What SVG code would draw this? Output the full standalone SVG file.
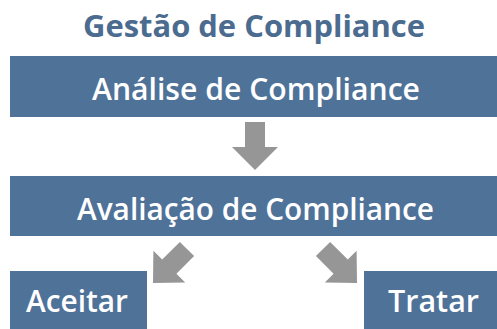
<svg xmlns="http://www.w3.org/2000/svg" width="497" height="329" viewBox="0 0 497 329">
<style>
.box{fill:#4f7299;}
.t{font-family:"Open Sans","DejaVu Sans",sans-serif;font-weight:600;fill:#ffffff;font-size:30px;}
.b{font-size:31px;}
.title{font-family:"Open Sans","DejaVu Sans",sans-serif;font-weight:700;fill:#4b6b8f;font-size:31px;}
.arr{fill:#969696;}
</style>
<rect width="497" height="329" fill="#ffffff"/>
<text class="title" x="83" y="37" textLength="342" lengthAdjust="spacingAndGlyphs">Gestão de Compliance</text>
<g id="analise">
<rect class="box" x="10" y="56" width="487" height="61"/>
<text class="t" x="92" y="100" textLength="328" lengthAdjust="spacingAndGlyphs">Análise de Compliance</text>
</g>
<g id="avaliacao">
<rect class="box" x="10" y="176" width="487" height="60"/>
<text class="t" x="77" y="220" textLength="357" lengthAdjust="spacingAndGlyphs">Avaliação de Compliance</text>
</g>
<g id="aceitar">
<rect class="box" x="10" y="271" width="137" height="58"/>
<text class="t b" x="26" y="312" textLength="102" lengthAdjust="spacingAndGlyphs">Aceitar</text>
</g>
<g id="tratar">
<rect class="box" x="364" y="271" width="133" height="58"/>
<text class="t b" x="388" y="312" textLength="91" lengthAdjust="spacingAndGlyphs">Tratar</text>
</g>
<g id="connectors">
<polygon class="arr" points="245,122 265,122 265,147 278,147 255,170 232,147 245,147"/>
<polygon class="arr" points="179.9,241.9 194.1,256.1 176.4,273.8 185.2,282.6 153,283 153.4,250.8 162.2,259.6"/>
<polygon class="arr" points="330.1,241.9 315.9,256.1 333.6,273.8 324.8,282.6 357,283 356.6,250.8 347.8,259.6"/>
</g>
</svg>
